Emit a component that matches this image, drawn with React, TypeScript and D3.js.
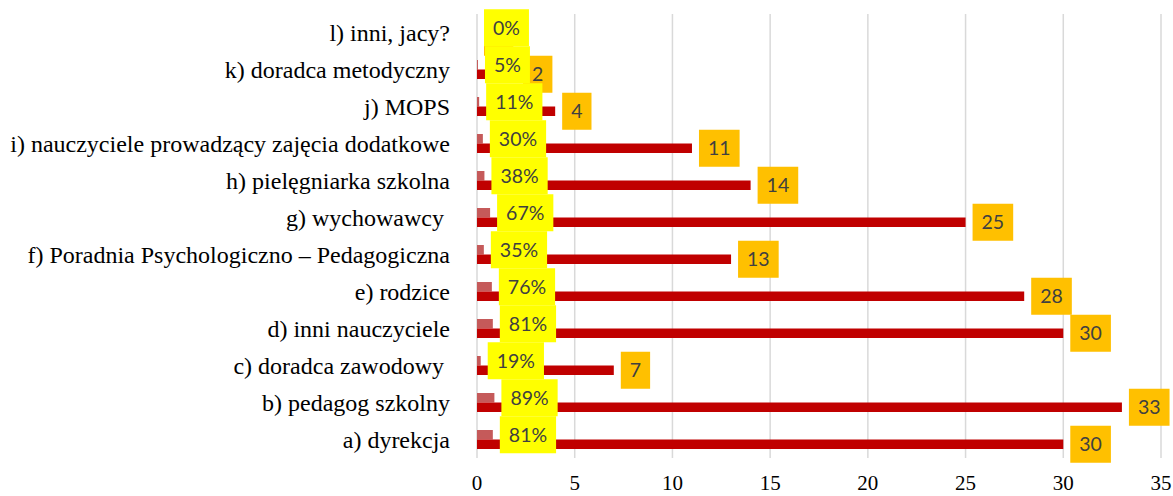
import React, { useEffect, useRef } from "react";
import * as d3 from "d3";

const categories = [
  "l) inni, jacy?",
  "k) doradca metodyczny",
  "j) MOPS",
  "i) nauczyciele prowadzący zajęcia dodatkowe",
  "h) pielęgniarka szkolna",
  "g) wychowawcy ",
  "f) Poradnia Psychologiczno – Pedagogiczna",
  "e) rodzice",
  "d) inni nauczyciele",
  "c) doradca zawodowy ",
  "b) pedagog szkolny",
  "a) dyrekcja",
];
const counts = [0, 2, 4, 11, 14, 25, 13, 28, 30, 7, 33, 30];
const percents = [0, 0.05, 0.11, 0.3, 0.38, 0.67, 0.35, 0.76, 0.81, 0.19, 0.89, 0.81];
const xTicks = [0, 5, 10, 15, 20, 25, 30, 35];

const W = 1173;
const H = 496;

export default function App() {
  const ref = useRef<SVGSVGElement>(null);
  useEffect(() => {
    const svg = d3.select(ref.current);
    svg.selectAll("*").remove();
    const left = 477, right = 1161, top = 14, bottom = 458;
    const x = d3.scaleLinear().domain([0, 35]).range([left, right]);
    const y = d3.scaleBand<string>().domain(categories).range([top, bottom]).padding(0);
    const sub = d3.scaleBand<string>().domain(["pct", "cnt"]).range([0, y.bandwidth()]).paddingInner(0).paddingOuter(0.947);

    // grid
    svg.append("g").selectAll("line").data(xTicks).join("line")
      .attr("x1", d => x(d)).attr("x2", d => x(d))
      .attr("y1", top).attr("y2", bottom)
      .attr("stroke", "#d9d9d9").attr("stroke-width", 1.5);

    // tick labels
    svg.append("g").selectAll("text").data(xTicks).join("text")
      .attr("x", d => x(d)).attr("y", 490)
      .attr("text-anchor", "middle")
      .attr("font-family", "'Liberation Serif', serif").attr("font-size", 21)
      .attr("fill", "#000").text(d => String(d));

    // category labels
    svg.append("g").selectAll("text").data(categories).join("text")
      .attr("x", 450).attr("y", d => (y(d) as number) + y.bandwidth() / 2).attr("dy", "0.35em")
      .attr("text-anchor", "end").style("white-space", "pre")
      .attr("font-family", "'Liberation Serif', serif").attr("font-size", 24)
      .attr("fill", "#000").text(d => d);

    const rows = categories.map((c, i) => ({ c, cnt: counts[i], pct: percents[i] }));

    // light bars
    svg.append("g").selectAll("rect").data(rows).join("rect")
      .attr("x", x(0)).attr("y", d => (y(d.c) as number) + (sub("pct") as number))
      .attr("width", d => x(d.pct) - x(0)).attr("height", sub.bandwidth())
      .attr("fill", "#C55A5A");
    // dark bars
    svg.append("g").selectAll("rect").data(rows).join("rect")
      .attr("x", x(0)).attr("y", d => (y(d.c) as number) + (sub("cnt") as number))
      .attr("width", d => x(d.cnt) - x(0)).attr("height", sub.bandwidth())
      .attr("fill", "#C00000");

    const boxH = 37;
    const font = "Lato, 'Open Sans', sans-serif";
    const drawLabels = (key: "cnt" | "pct", fill: string, fmt: (r: any) => string) => {
      const g = svg.append("g");
      rows.forEach(r => {
        const v = key === "cnt" ? r.cnt : r.pct;
        const cy = (y(r.c) as number) + (sub(key) as number) + sub.bandwidth() / 2;
        const bx = x(v) + 7;
        const lg = g.append("g");
        const rect = lg.append("rect").attr("fill", fill);
        const t = lg.append("text")
          .attr("y", cy).attr("dy", "0.36em")
          .attr("font-family", font).attr("font-size", 19.5)
          .attr("fill", "#404040").text(fmt(r));
        const tw = (t.node() as SVGTextElement).getComputedTextLength();
        const bw = tw + 18;
        rect.attr("x", bx).attr("y", cy - boxH / 2).attr("width", bw).attr("height", boxH);
        t.attr("x", bx + bw / 2).attr("text-anchor", "middle");
      });
    };
    drawLabels("cnt", "#FFC000", r => String(r.cnt));
    drawLabels("pct", "#FFFF00", r => `${Math.round(r.pct * 100)}%`);
  }, []);
  return (
    <svg ref={ref} width={W} height={H} style={{ position: "absolute", left: 0, top: 0, background: "#fff" }} />
  );
}
